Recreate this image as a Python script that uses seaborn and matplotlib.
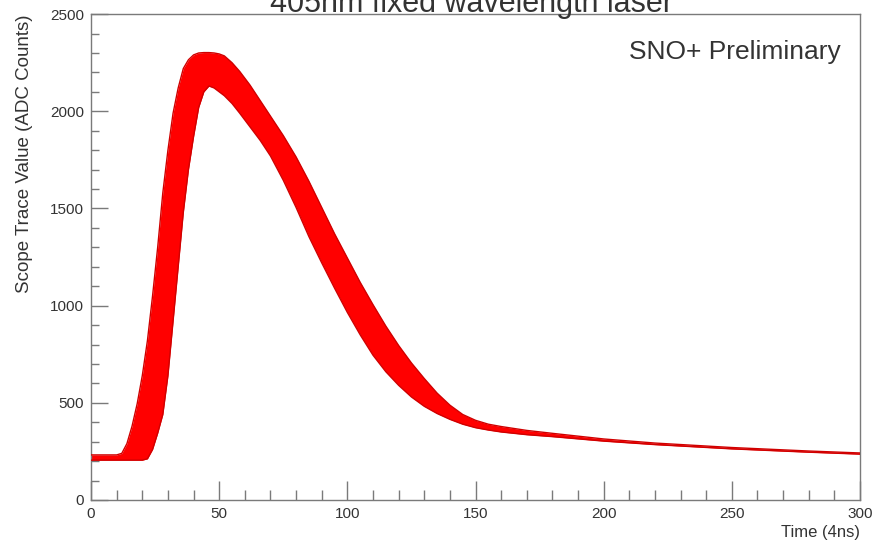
import numpy as np
import pandas as pd
import matplotlib
matplotlib.use("Agg")
import matplotlib.pyplot as plt
from matplotlib.ticker import MultipleLocator
import seaborn as sns

# ---- data ----
time_4ns = [0, 10, 12, 14, 16, 18, 20, 22, 24, 26, 28, 30, 32, 34, 36, 38, 40, 42, 44, 46,
            48, 50, 52, 55, 58, 62, 66, 70, 75, 80, 85, 90, 95, 100, 105, 110, 115, 120,
            125, 130, 135, 140, 145, 150, 155, 160, 170, 180, 200, 220, 250, 280, 300]
upper_adc = [232, 232, 240, 290, 380, 495, 640, 820, 1050, 1300, 1580, 1800, 1990, 2120,
             2220, 2265, 2290, 2300, 2302, 2302, 2300, 2295, 2285, 2250, 2205, 2135, 2055,
             1975, 1875, 1765, 1640, 1505, 1370, 1245, 1120, 1005, 895, 795, 705, 625, 550,
             488, 440, 410, 390, 378, 358, 343, 314, 293, 270, 252, 242]
lower_adc = [205, 205, 205, 205, 205, 205, 205, 212, 260, 344, 440, 640, 920, 1200, 1480,
             1700, 1870, 2020, 2100, 2130, 2120, 2100, 2080, 2040, 1990, 1920, 1850, 1770,
             1645, 1505, 1355, 1220, 1090, 965, 850, 745, 660, 590, 530, 482, 445, 415, 390,
             372, 360, 350, 336, 326, 303, 285, 263, 246, 236]
title_text = "405nm fixed wavelength laser"
x_label = "Time (4ns)"
y_label = "Scope Trace Value (ADC Counts)"
note_text = "SNO+ Preliminary"

df = pd.DataFrame({
    "t": time_4ns * 2,
    "adc": upper_adc + lower_adc,
    "edge": ["upper"] * len(time_4ns) + ["lower"] * len(time_4ns),
})

sns.set_theme(style="white")
plt.rcParams["font.family"] = ["Liberation Sans", "DejaVu Sans"]

fig = plt.figure(figsize=(8.89, 5.42), dpi=100)
ax = fig.add_axes([0.1024, 0.0775, 0.8650, 0.8965])

ax.fill_between(time_4ns, lower_adc, upper_adc, color="#ff0000", lw=0, zorder=2)
sns.lineplot(data=df, x="t", y="adc", hue="edge", palette=["#d00000", "#d00000"],
             linewidth=1.0, legend=False, ax=ax, zorder=3)

ax.set_xlim(0, 300)
ax.set_ylim(0, 2500)
ax.xaxis.set_major_locator(MultipleLocator(50))
ax.xaxis.set_minor_locator(MultipleLocator(10))
ax.yaxis.set_major_locator(MultipleLocator(500))
ax.yaxis.set_minor_locator(MultipleLocator(100))

frame_col = "#7a7a7a"
for s in ax.spines.values():
    s.set_color(frame_col)
    s.set_linewidth(1.0)

ax.tick_params(axis="x", which="major", direction="in", length=14, width=1.0,
               color=frame_col, labelsize=11, labelcolor="#333333", pad=5)
ax.tick_params(axis="x", which="minor", direction="in", length=7, width=1.0, color=frame_col)
ax.tick_params(axis="y", which="major", direction="in", length=12, width=1.0,
               color=frame_col, labelsize=11, labelcolor="#333333", pad=5)
ax.tick_params(axis="y", which="minor", direction="in", length=6, width=1.0, color=frame_col)
ax.tick_params(bottom=True, left=True, top=False, right=False)
ax.tick_params(which="minor", bottom=True, left=True, top=False, right=False)

ax.set_xlabel(x_label, fontsize=12, color="#333333", loc="right", labelpad=3)
ax.set_ylabel(y_label, fontsize=13.5, color="#333333", loc="top", labelpad=12)

ax.text(0.975, 0.922, note_text, transform=ax.transAxes, ha="right", va="center",
        fontsize=19, color="#333333")

fig.text(0.53, 1 - 12 / 542, title_text, ha="center", va="baseline",
         fontsize=22, color="#333333")

fig.savefig("out.png", dpi=100, facecolor="white")
